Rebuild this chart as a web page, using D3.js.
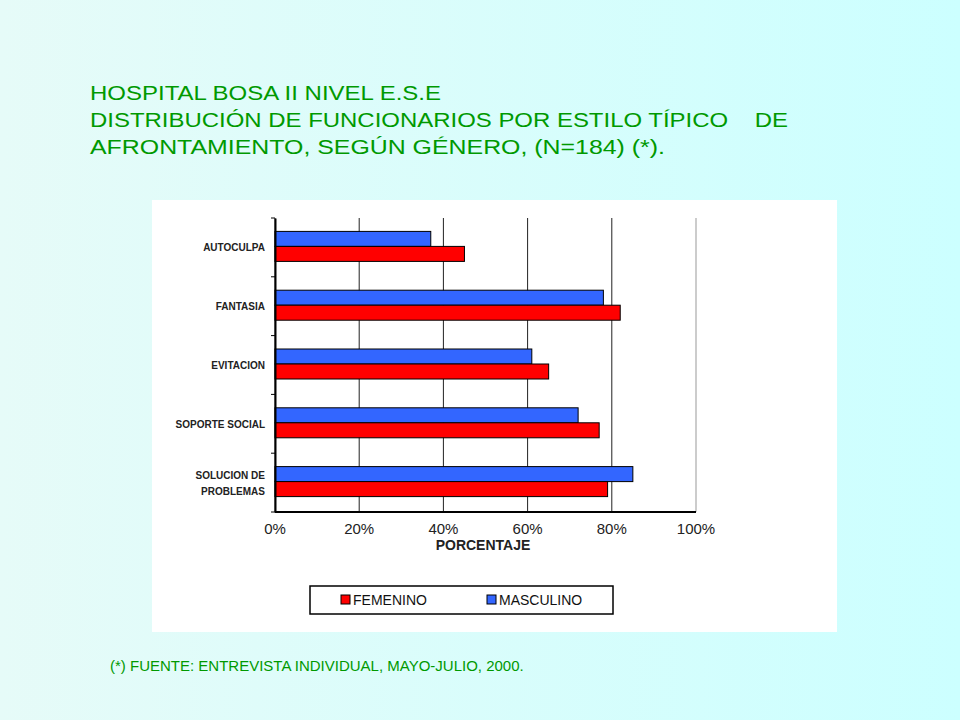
<!DOCTYPE html>
<html><head><meta charset="utf-8">
<script src="https://cdn.jsdelivr.net/npm/d3@7"></script>
<style>body{margin:0}</style>
</head><body><div id="chart"></div>
<script>
// data
var categories = [["AUTOCULPA"], ["FANTASIA"], ["EVITACION"], ["SOPORTE SOCIAL"], ["SOLUCION DE", "PROBLEMAS"]];
var masculino = [37, 78, 61, 72, 85];
var femenino = [45, 82, 65, 77, 79];
var xTicks = [0, 20, 40, 60, 80, 100];

var svg = d3.select('#chart').append('svg').attr('width', 960).attr('height', 720);

var grad = svg.append('defs').append('linearGradient').attr('id', 'bg');
grad.append('stop').attr('offset', '0%').attr('stop-color', '#e6fbf8');
grad.append('stop').attr('offset', '100%').attr('stop-color', '#ccffff');
svg.append('rect').attr('width', 960).attr('height', 720).attr('fill', 'url(#bg)');

var title = ['HOSPITAL BOSA II NIVEL E.S.E', 'DISTRIBUCIÓN DE FUNCIONARIOS POR ESTILO TÍPICO    DE', 'AFRONTAMIENTO, SEGÚN GÉNERO, (N=184) (*).'];
var titleLen = [351, 698, 575];
svg.selectAll('text.title').data(title).enter().append('text')
  .attr('x', 90).attr('y', function (d, i) { return 100 + i * 27; })
  .attr('textLength', function (d, i) { return titleLen[i]; }).attr('lengthAdjust', 'spacingAndGlyphs')
  .attr('fill', '#009900').style('font', '20px Arial, "Liberation Sans"')
  .style('white-space', 'pre').text(function (d) { return d; });

svg.append('rect').attr('x', 152).attr('y', 200).attr('width', 685).attr('height', 432).attr('fill', '#fff');

var pl = 275, pr = 696, pt = 218, pb = 512;
var x = d3.scaleLinear().domain([0, 100]).range([pl, pr]);
var y = d3.scaleBand().domain(d3.range(categories.length)).range([pt, pb]);
var bh = 15;

svg.append('g').selectAll('line').data(xTicks).enter().append('line')
  .attr('x1', function (d) { return x(d); }).attr('x2', function (d) { return x(d); })
  .attr('y1', pt).attr('y2', pb)
  .attr('stroke', function (d) { return d === 100 ? '#999' : '#222'; }).attr('stroke-width', 1);

function bars(vals, color, off) {
  svg.append('g').selectAll('rect').data(vals).enter().append('rect')
    .attr('x', x(0)).attr('y', function (d, i) { return y(i) + y.bandwidth() / 2 - bh + off; })
    .attr('width', function (d) { return x(d) - x(0); }).attr('height', bh)
    .attr('fill', color).attr('stroke', '#000').attr('stroke-width', 1);
}
bars(masculino, '#3366ff', -1);
bars(femenino, '#ff0000', bh - 1);

var yAxis = d3.axisLeft(y).tickSize(0).tickFormat('');
svg.append('g').attr('transform', 'translate(' + pl + ',0)').call(yAxis)
  .select('.domain').attr('stroke', '#000').attr('stroke-width', 2);
svg.append('g').selectAll('line').data(d3.range(categories.length + 1)).enter().append('line')
  .attr('x1', pl - 4).attr('x2', pl)
  .attr('y1', function (d) { return pt + d * y.step(); }).attr('y2', function (d) { return pt + d * y.step(); })
  .attr('stroke', '#000');
svg.append('line').attr('x1', pl).attr('x2', pr).attr('y1', pb).attr('y2', pb).attr('stroke', '#000').attr('stroke-width', 2);

var lab = svg.append('g').selectAll('text').data(categories).enter().append('text')
  .attr('text-anchor', 'end').style('font', 'bold 10px Arial, "Liberation Sans"').attr('fill', '#222');
lab.each(function (d, i) {
  var t = d3.select(this), cy = y(i) + y.bandwidth() / 2 + 4 - (d.length - 1) * 8;
  d.forEach(function (s, j) {
    t.append('tspan').attr('x', pl - 10).attr('y', cy + j * 16).text(s);
  });
});

svg.append('g').selectAll('text').data(xTicks).enter().append('text')
  .attr('x', function (d) { return x(d); }).attr('y', 522).attr('dy', '0.8em')
  .attr('text-anchor', 'middle').style('font', '15px Arial, "Liberation Sans"').attr('fill', '#222')
  .text(function (d) { return d + '%'; });

svg.append('text').attr('x', 483).attr('y', 550).attr('text-anchor', 'middle')
  .style('font', 'bold 14px Arial, "Liberation Sans"').attr('fill', '#222').text('PORCENTAJE');

svg.append('rect').attr('x', 310).attr('y', 586).attr('width', 303).attr('height', 28)
  .attr('fill', '#fff').attr('stroke', '#000').attr('stroke-width', 1.5);
var legend = [['FEMENINO', '#ff0000', 341], ['MASCULINO', '#3366ff', 487]];
legend.forEach(function (l) {
  svg.append('rect').attr('x', l[2]).attr('y', 595).attr('width', 9).attr('height', 9)
    .attr('fill', l[1]).attr('stroke', '#000');
  svg.append('text').attr('x', l[2] + 12).attr('y', 605).style('font', '14px Arial, "Liberation Sans"')
    .attr('fill', '#111').text(l[0]);
});

svg.append('text').attr('x', 110).attr('y', 671).attr('fill', '#009900')
  .style('font', '15px Arial, "Liberation Sans"').text('(*) FUENTE: ENTREVISTA INDIVIDUAL, MAYO-JULIO, 2000.');
</script></body></html>
